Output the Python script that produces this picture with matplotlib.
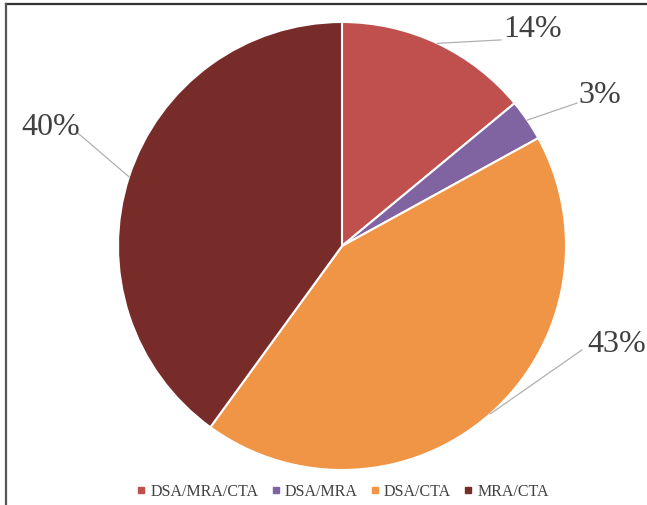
import matplotlib.pyplot as plt
import numpy as np
from matplotlib.lines import Line2D

# data
categories = ["DSA/MRA/CTA", "DSA/MRA", "DSA/CTA", "MRA/CTA"]
shares = [14, 3, 43, 40]
colors = ["#C0504D", "#8064A2", "#EF9545", "#772C2A"]

# label placement (data units, pie radius = 1): leader end point, text anchor, alignment
label_layout = [
    ((0.710, 0.920), (0.719, 0.933), "left"),
    ((1.049, 0.638), (1.054, 0.638), "left"),
    ((1.071, -0.464), (1.094, -0.473), "left"),
    ((-1.179, 0.504), (-1.170, 0.496), "right"),
]

plt.rcParams["font.family"] = ["Liberation Serif", "DejaVu Serif"]
text_color = "#404040"

fig = plt.figure(figsize=(6.47, 5.05), dpi=100)
ax = fig.add_axes([118 / 647, 35 / 505, 448 / 647, 448 / 505])

wedges, _ = ax.pie(
    shares,
    colors=colors,
    startangle=90,
    counterclock=False,
    radius=1.0,
    wedgeprops=dict(edgecolor="white", linewidth=1.5),
)
ax.set_xlim(-1, 1)
ax.set_ylim(-1, 1)
ax.set_aspect("equal")
ax.axis("off")

for w, val, (end, txt, ha) in zip(wedges, shares, label_layout):
    mid = np.deg2rad((w.theta1 + w.theta2) / 2.0)
    start = (np.cos(mid), np.sin(mid))
    ax.plot([start[0], end[0]], [start[1], end[1]], color="#B0B0B0",
            linewidth=0.9, clip_on=False, zorder=3)
    ax.text(txt[0], txt[1], f"{val}%", ha=ha, va="baseline",
            fontsize=23, color=text_color, clip_on=False)

handles = [
    Line2D([0], [0], marker="s", linestyle="none", markersize=5,
           markerfacecolor=c, markeredgecolor=c)
    for c in colors
]
fig.legend(
    handles, categories,
    loc="center", bbox_to_anchor=(343 / 647, 1 - 492 / 505),
    ncol=4, frameon=False, fontsize=11.5,
    handlelength=0.5, handletextpad=0.3, columnspacing=0.85,
    labelcolor=text_color,
)

# frame lines on the top and left edges
fig.add_artist(Line2D([6 / 647, 1.0], [1 - 4 / 505, 1 - 4 / 505],
                      transform=fig.transFigure, color="#333333", linewidth=1.6))
fig.add_artist(Line2D([6 / 647, 6 / 647], [0.0, 1 - 4 / 505],
                      transform=fig.transFigure, color="#555555", linewidth=1.6))

fig.savefig("out.png", dpi=100, facecolor="white")
